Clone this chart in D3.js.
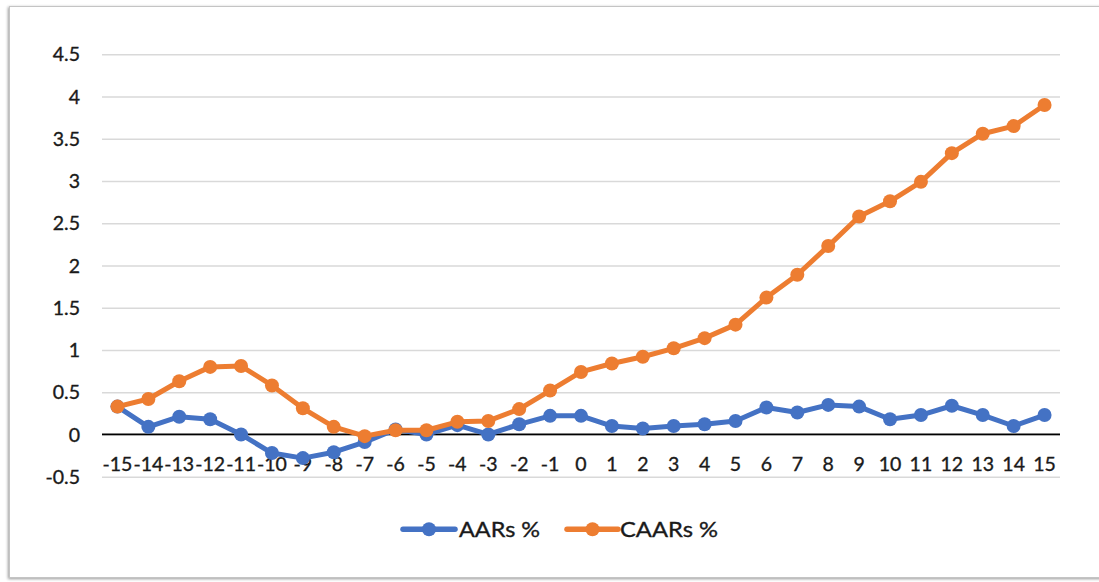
<!DOCTYPE html>
<html>
<head>
<meta charset="utf-8">
<script src="https://cdn.jsdelivr.net/npm/d3@7"></script>
<style>
  html, body { margin: 0; padding: 0; background: #ffffff; }
  svg { display: block; }
  text { font-family: Lato, "Open Sans", "DejaVu Sans", sans-serif; fill: #1a1a1a; stroke: #1a1a1a; stroke-width: 0.35px; }
</style>
</head>
<body>
<svg id="chart" width="1099" height="582"></svg>
<script>
// Event window (days relative to the event)
const eventDays = [-15, -14, -13, -12, -11, -10, -9, -8, -7, -6, -5, -4, -3, -2, -1,
                   0, 1, 2, 3, 4, 5, 6, 7, 8, 9, 10, 11, 12, 13, 14, 15];

// Average abnormal returns, %
const aars = [0.33, 0.09, 0.21, 0.18, 0.00, -0.22, -0.28, -0.21, -0.09, 0.06, 0.00,
              0.11, 0.00, 0.12, 0.22, 0.22, 0.10, 0.07, 0.10, 0.12, 0.16, 0.32,
              0.26, 0.35, 0.33, 0.18, 0.23, 0.34, 0.23, 0.10, 0.23];

// Cumulative average abnormal returns, %
const caars = [0.33, 0.42, 0.63, 0.80, 0.81, 0.58, 0.31, 0.09, -0.02, 0.05, 0.05,
               0.15, 0.16, 0.30, 0.52, 0.74, 0.84, 0.92, 1.02, 1.14, 1.30, 1.62,
               1.89, 2.23, 2.58, 2.76, 2.99, 3.33, 3.56, 3.65, 3.90];

const seriesNames = ["AARs %", "CAARs %"];
const seriesColors = ["#4472C4", "#ED7D31"];
const yTicks = [-0.5, 0, 0.5, 1, 1.5, 2, 2.5, 3, 3.5, 4, 4.5];

const series = [
  { name: seriesNames[0], color: seriesColors[0], values: aars },
  { name: seriesNames[1], color: seriesColors[1], values: caars }
];

const svg = d3.select("#chart");

// Chart frame with a soft shadow
const defs = svg.append("defs");
const shadow = defs.append("filter").attr("id", "frameShadow")
  .attr("x", "-5%").attr("y", "-5%").attr("width", "110%").attr("height", "110%");
shadow.append("feDropShadow")
  .attr("dx", -1).attr("dy", 1).attr("stdDeviation", 1.8)
  .attr("flood-color", "#000").attr("flood-opacity", 0.4);

svg.append("rect")
  .attr("x", 9.5).attr("y", 6.5)
  .attr("width", 1110).attr("height", 571)
  .attr("fill", "#ffffff")
  .attr("stroke", "#c4c4c4")
  .attr("stroke-width", 1)
  .attr("filter", "url(#frameShadow)");

const plot = { left: 102, right: 1060, top: 54.3, bottom: 476.7 };

const x = d3.scaleBand()
  .domain(eventDays)
  .range([plot.left, plot.right])
  .padding(0);

const y = d3.scaleLinear()
  .domain([-0.5, 4.5])
  .range([plot.bottom, plot.top]);

const cx = d => x(d) + x.bandwidth() / 2;

// Horizontal gridlines and value labels
const yAxis = svg.append("g")
  .attr("transform", `translate(${plot.left},0)`)
  .call(d3.axisLeft(y)
    .tickValues(yTicks)
    .tickSize(-(plot.right - plot.left))
    .tickPadding(22)
    .tickFormat(d => String(d)));
yAxis.select(".domain").remove();
yAxis.selectAll(".tick line")
  .attr("stroke", "#d9d9d9")
  .attr("stroke-width", 1.5);
yAxis.selectAll(".tick text")
  .attr("font-size", 19.5)
  .attr("fill", "#1a1a1a")
  .attr("dy", "0.34em");

// Zero line
svg.append("line")
  .attr("x1", plot.left).attr("x2", plot.right)
  .attr("y1", y(0)).attr("y2", y(0))
  .attr("stroke", "#000")
  .attr("stroke-width", 1.7);

// Category labels beneath the zero line
const xAxis = svg.append("g")
  .attr("transform", `translate(0,${y(0)})`)
  .call(d3.axisBottom(x).tickSize(0).tickPadding(23).tickFormat(d => String(d)));
xAxis.select(".domain").remove();
xAxis.selectAll(".tick text")
  .attr("font-size", 19.5)
  .attr("fill", "#1a1a1a");

// Series lines and markers
const line = d3.line()
  .x((v, i) => cx(eventDays[i]))
  .y(v => y(v));

series.forEach(s => {
  const g = svg.append("g");
  g.append("path")
    .datum(s.values)
    .attr("d", line)
    .attr("fill", "none")
    .attr("stroke", s.color)
    .attr("stroke-width", 5)
    .attr("stroke-linejoin", "round")
    .attr("stroke-linecap", "round");
  g.selectAll("circle")
    .data(s.values)
    .join("circle")
    .attr("cx", (v, i) => cx(eventDays[i]))
    .attr("cy", v => y(v))
    .attr("r", 7)
    .attr("fill", s.color);
});

// Legend
const legendY = 529.3;
const legendItems = [
  { x0: 403, x1: 455, tx: 459, tw: 81 },
  { x0: 567, x1: 618, tx: 620, tw: 98 }
];
series.forEach((s, i) => {
  const it = legendItems[i];
  const g = svg.append("g");
  g.append("line")
    .attr("x1", it.x0).attr("x2", it.x1)
    .attr("y1", legendY).attr("y2", legendY)
    .attr("stroke", s.color)
    .attr("stroke-width", 5.5)
    .attr("stroke-linecap", "round");
  g.append("circle")
    .attr("cx", (it.x0 + it.x1) / 2)
    .attr("cy", legendY)
    .attr("r", 7)
    .attr("fill", s.color);
  g.append("text")
    .attr("x", it.tx)
    .attr("y", 537)
    .attr("font-size", 20.5)
    .attr("textLength", it.tw)
    .attr("lengthAdjust", "spacingAndGlyphs")
    .text(s.name);
});
</script>
</body>
</html>
